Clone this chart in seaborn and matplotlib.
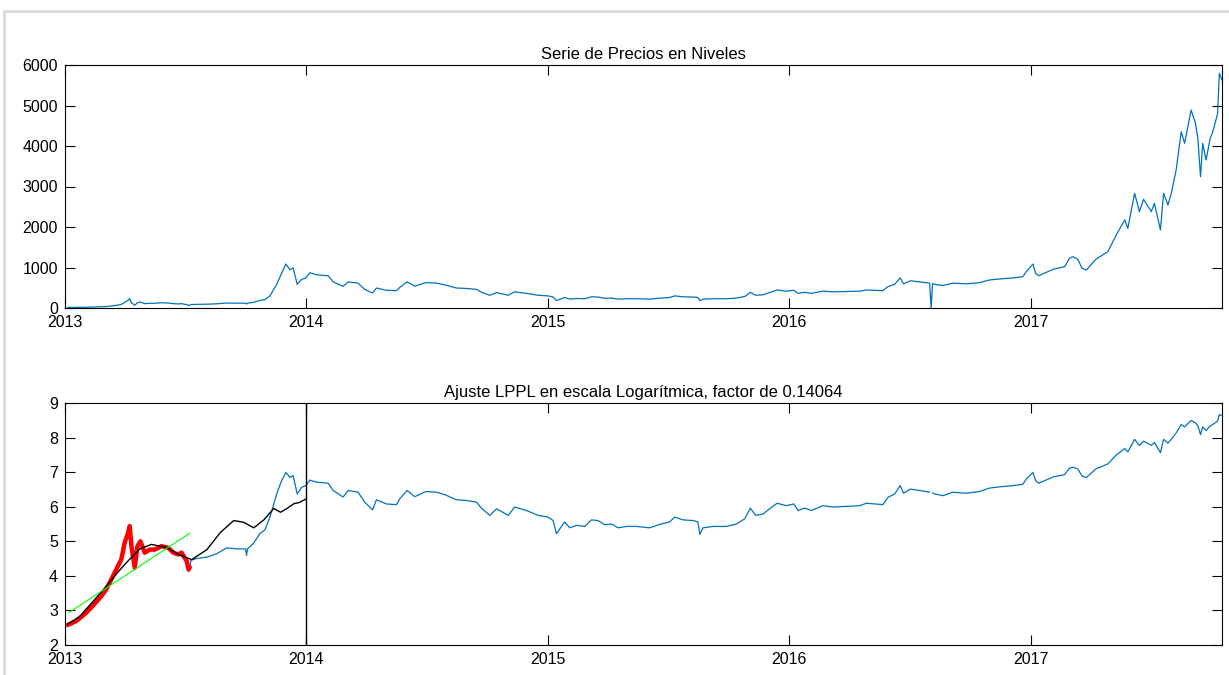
import numpy as np
import pandas as pd
import matplotlib.pyplot as plt
import seaborn as sns
from matplotlib.lines import Line2D

# time axis = years after 1 Jan 2013
# 2013-2016 (log of price)
t_log = [0.011, 0.046, 0.0875, 0.115, 0.15, 0.171, 0.192, 0.219, 0.233, 0.247,
         0.261, 0.268, 0.275, 0.289, 0.30, 0.3125, 0.33, 0.351, 0.372, 0.40,
         0.428, 0.449, 0.469, 0.483, 0.504, 0.512, 0.517, 0.522, 0.545, 0.587,
         0.628, 0.670, 0.711, 0.748, 0.752, 0.756, 0.78, 0.807, 0.828, 0.849,
         0.877, 0.897, 0.915, 0.932, 0.945, 0.962, 0.98, 0.998, 1.014, 1.042,
         1.09, 1.111, 1.152, 1.173, 1.214, 1.242, 1.274, 1.29, 1.332, 1.373,
         1.387, 1.417, 1.449, 1.495, 1.539, 1.573, 1.622, 1.663, 1.705, 1.725,
         1.76, 1.788, 1.836, 1.863, 1.912, 1.96, 2.001, 2.022, 2.036, 2.07,
         2.091, 2.119, 2.153, 2.181, 2.208, 2.236, 2.264, 2.291, 2.326, 2.367,
         2.422, 2.464, 2.505, 2.526, 2.56, 2.602, 2.622, 2.63, 2.643, 2.685,
         2.74, 2.781, 2.816, 2.839, 2.861, 2.892, 2.919, 2.95, 2.988, 3.019,
         3.037, 3.064, 3.092, 3.14, 3.181, 3.237, 3.292, 3.32, 3.388, 3.409,
         3.437, 3.46, 3.474, 3.502, 3.54, 3.582, 3.588, 3.594, 3.602, 3.637,
         3.678, 3.733, 3.789, 3.83, 3.879, 3.927, 3.968, 3.982, 4.01, 4.021,
         4.034]
log_price = [2.58, 2.69, 2.93, 3.13, 3.41, 3.61, 3.90, 4.28, 4.47, 4.95,
             5.24, 5.44, 4.86, 4.23, 4.86, 5.00, 4.67, 4.76, 4.76, 4.86,
             4.81, 4.67, 4.62, 4.67, 4.43, 4.18, 4.25, 4.45, 4.50, 4.54,
             4.64, 4.81, 4.78, 4.78, 4.59, 4.78, 4.93, 5.22, 5.33, 5.70,
             6.37, 6.75, 6.99, 6.85, 6.90, 6.37, 6.56, 6.61, 6.77, 6.71,
             6.68, 6.47, 6.28, 6.47, 6.42, 6.13, 5.91, 6.20, 6.08, 6.06,
             6.23, 6.47, 6.29, 6.44, 6.42, 6.35, 6.20, 6.18, 6.13, 5.96,
             5.75, 5.94, 5.75, 5.99, 5.89, 5.75, 5.70, 5.60, 5.22, 5.56,
             5.39, 5.46, 5.43, 5.62, 5.60, 5.48, 5.50, 5.39, 5.43, 5.43,
             5.39, 5.49, 5.56, 5.70, 5.62, 5.60, 5.56, 5.20, 5.39, 5.43,
             5.43, 5.50, 5.65, 5.96, 5.75, 5.79, 5.94, 6.10, 6.03, 6.08,
             5.89, 5.96, 5.89, 6.03, 5.99, 6.01, 6.03, 6.10, 6.06, 6.27,
             6.37, 6.61, 6.39, 6.51, 6.47, 6.42, -np.inf, 6.40, 6.37, 6.32,
             6.42, 6.39, 6.44, 6.54, 6.58, 6.61, 6.65, 6.80, 6.99, 6.75,
             6.68]

# 2017 (USD)
t_lvl = [4.093, 4.141, 4.161, 4.175, 4.196, 4.213, 4.231, 4.27, 4.32, 4.355,
         4.39, 4.403, 4.431, 4.451, 4.468, 4.50, 4.513, 4.538, 4.551, 4.569,
         4.583, 4.603, 4.624, 4.638, 4.665, 4.683, 4.693, 4.704, 4.713, 4.727,
         4.744, 4.755, 4.775, 4.782, 4.793]
price_lvl = [955, 1020, 1227, 1267, 1202, 980, 938, 1202, 1390, 1802,
             2173, 1967, 2832, 2379, 2684, 2379, 2585, 1926, 2832, 2543,
             2832, 3407, 4354, 4067, 4889, 4561, 4190, 3243, 4067, 3654,
             4190, 4354, 4807, 5795, 5630]

# LPPL fit (black) and linear trend (green), log scale
t_fit = [0.011, 0.06, 0.115, 0.171, 0.212, 0.254, 0.31, 0.358, 0.421, 0.476,
         0.525, 0.588, 0.643, 0.699, 0.74, 0.782, 0.824, 0.865, 0.893, 0.92,
         0.949, 0.97, 1.0]
fit_vals = [2.60, 2.82, 3.25, 3.70, 4.05, 4.38, 4.78, 4.91, 4.82, 4.60,
            4.47, 4.76, 5.25, 5.60, 5.55, 5.39, 5.62, 5.95, 5.84, 5.95,
            6.09, 6.12, 6.23]
t_trend = [0.015, 0.518]
trend_vals = [2.93, 5.24]

window_end = 0.518   # end of the fitted window (red)
crash_date = 1.0     # vertical line

t0 = 2013
df = pd.DataFrame({"t": t_log + t_lvl,
                   "price": list(np.exp(log_price)) + price_lvl})
df["year"] = t0 + df["t"]
with np.errstate(divide="ignore"):
    df["logp"] = np.log(df["price"])
df.loc[~np.isfinite(df["logp"]), "logp"] = np.nan
df["seg"] = df["logp"].isna().cumsum()

fit_df = pd.DataFrame({"year": t0 + np.array(t_fit), "v": fit_vals})
trend_df = pd.DataFrame({"year": t0 + np.array(t_trend), "v": trend_vals})
red_df = df[df["t"] <= window_end]

sns.set_theme(style="white")
plt.rcParams["font.family"] = ["Liberation Sans", "DejaVu Sans"]

W, H = 1229, 675
fig = plt.figure(figsize=(W / 100, H / 100), dpi=100)
blue = "#0072BD"

def box(l, t, r, b):
    return [l / W, 1 - b / H, (r - l) / W, (b - t) / H]

ax1 = fig.add_axes(box(65, 65, 1222, 308))
ax2 = fig.add_axes(box(65, 403, 1222, 645))

sns.lineplot(data=df, x="year", y="price", color=blue, lw=0.9, ax=ax1,
             estimator=None, sort=False)
ax1.set_ylim(0, 6000)
ax1.set_yticks(range(0, 6001, 1000))
ax1.set_title("Serie de Precios en Niveles", fontsize=12, pad=4,
              color="black")

sns.lineplot(data=df, x="year", y="logp", units="seg", color=blue, lw=0.9,
             ax=ax2, estimator=None, sort=False)
sns.lineplot(data=red_df, x="year", y="logp", color="red", lw=3.2, ax=ax2,
             estimator=None, sort=False)
sns.lineplot(data=fit_df, x="year", y="v", color="black", lw=1.0, ax=ax2,
             estimator=None, sort=False)
sns.lineplot(data=trend_df, x="year", y="v", color="#00FF00", lw=0.8, ax=ax2,
             estimator=None, sort=False)
ax2.axvline(t0 + crash_date, color="black", lw=1.0)
ax2.set_ylim(2, 9)
ax2.set_title("Ajuste LPPL en escala Logarítmica, factor de 0.14064",
              fontsize=12, pad=4, color="black")

for ax in (ax1, ax2):
    ax.set_xlim(2013, 2017.793)
    ax.set_xticks([2013, 2014, 2015, 2016, 2017])
    ax.set_xticklabels(["2013", "2014", "2015", "2016", "2017"])
    ax.set_xlabel("")
    ax.set_ylabel("")
    ax.tick_params(direction="in", length=7, width=0.8, colors="black",
                   labelsize=11.5, top=True, right=True,
                   bottom=True, left=True)
    ax.tick_params(axis="x", pad=5)
    ax.tick_params(axis="y", pad=5)
    for s in ax.spines.values():
        s.set_color("black")
        s.set_linewidth(0.8)
    ax.grid(False)

# window frame of the screenshot
fig.add_artist(Line2D([5 / W, 1], [1 - 11 / H] * 2, transform=fig.transFigure,
                      color="#dadada", lw=2))
fig.add_artist(Line2D([4 / W] * 2, [0, 1 - 11 / H], transform=fig.transFigure,
                      color="#dadada", lw=2))

fig.savefig("out.png", dpi=100, facecolor="white")
